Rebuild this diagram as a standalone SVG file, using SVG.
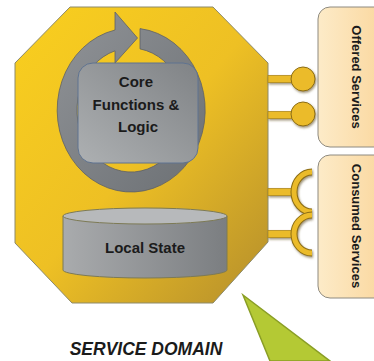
<svg xmlns="http://www.w3.org/2000/svg" width="374" height="361" viewBox="0 0 374 361">
  <defs>
    <linearGradient id="gold" x1="0" y1="0" x2="1" y2="1">
      <stop offset="0" stop-color="#F9CF1E"/>
      <stop offset="0.5" stop-color="#EEC024"/>
      <stop offset="1" stop-color="#B48E2C"/>
    </linearGradient>
    <linearGradient id="steel" x1="0" y1="1" x2="1" y2="0">
      <stop offset="0" stop-color="#ADB0B2"/>
      <stop offset="1" stop-color="#808386"/>
    </linearGradient>
    <linearGradient id="ring" x1="0" y1="0" x2="1" y2="1">
      <stop offset="0" stop-color="#909397"/>
      <stop offset="1" stop-color="#6C7074"/>
    </linearGradient>
    <linearGradient id="drum" x1="0" y1="0" x2="1" y2="0">
      <stop offset="0" stop-color="#A9ABAD"/>
      <stop offset="1" stop-color="#7B7E81"/>
    </linearGradient>
    <linearGradient id="peach" x1="0" y1="0" x2="1" y2="0">
      <stop offset="0" stop-color="#FDEBC8"/>
      <stop offset="1" stop-color="#FAD69C"/>
    </linearGradient>
    <filter id="drop" x="-30%" y="-30%" width="160%" height="160%">
      <feDropShadow dx="1" dy="1.5" stdDeviation="1" flood-color="#5a4a20" flood-opacity="0.6"/>
    </filter>
  </defs>
  <style>
    .label { font-family: "Liberation Sans", Arial, sans-serif; font-weight: bold; fill: #1b1b1b; }
    .plug { fill: #EBBB2A; stroke: #8C6D14; stroke-width: 1; }
    .bar { fill: #EBBB2A; stroke: #B08A1C; stroke-width: 0.8; }
    .socket { fill: none; stroke: #EBBB2A; stroke-width: 5; }
    .socket-edge { fill: none; stroke: #8C6D14; stroke-width: 7; }
    .panel { fill: url(#peach); stroke: #8E8A80; stroke-width: 1; }
  </style>

  <!-- service domain body -->
  <g id="service-domain">
    <polygon points="70,7 213,7 268,63 268,242 213,303 72,303 15,243 15,63" fill="url(#gold)" stroke="#8D8A6A" stroke-width="1"/>
  </g>

  <!-- circular arrow around the core -->
  <g id="cycle-arrow">
    <path d="M140,28.6 A74,82 0 1 1 115,30 L115,12 L137.5,38 L115,63 L115,50.8 A54,62 0 1 0 140,48.9 Z" fill="url(#ring)" stroke="#5E6165" stroke-width="0.8"/>
  </g>

  <g id="core">
    <rect x="78" y="63" width="120" height="100" rx="15" fill="url(#steel)" stroke="#5F7390" stroke-width="1"/>
    <text class="label" font-size="15" text-anchor="middle">
      <tspan x="138" y="87">Core</tspan>
      <tspan x="138" y="110">Functions &amp;</tspan>
      <tspan x="138" y="132">Logic</tspan>
    </text>
  </g>

  <g id="local-state">
    <path d="M63,216 L63,270 A82,8 0 0 0 227,270 L227,216 Z" fill="url(#drum)" stroke="#7D7A55" stroke-width="1"/>
    <ellipse cx="145" cy="216" rx="82" ry="8" fill="#B7B9BB" stroke="#7D7A55" stroke-width="1"/>
    <text class="label" font-size="15" x="145" y="253" text-anchor="middle">Local State</text>
  </g>

  <!-- interface panels -->
  <g id="offered-services">
    <rect class="panel" x="318" y="7" width="70" height="140" rx="12"/>
    <text class="label" font-size="13" transform="translate(352,77) rotate(90)" text-anchor="middle">Offered Services</text>
  </g>
  <g id="consumed-services">
    <rect class="panel" x="318" y="155" width="70" height="143" rx="12"/>
    <text class="label" font-size="13" transform="translate(352,226) rotate(90)" text-anchor="middle">Consumed Services</text>
  </g>

  <!-- interface connectors -->
  <g id="connectors">
    <g filter="url(#drop)">
      <rect class="bar" x="268" y="75.5" width="26" height="7"/>
      <circle class="plug" cx="303" cy="79" r="12"/>
      <rect class="bar" x="268" y="111.5" width="26" height="7"/>
      <circle class="plug" cx="303" cy="114" r="12"/>
    </g>
    <g filter="url(#drop)">
      <rect class="bar" x="268" y="188.5" width="27" height="7"/>
      <path class="socket-edge" d="M312,172 A18,20 0 0 0 312,212"/>
      <path class="socket" d="M312,172 A18,20 0 0 0 312,212"/>
      <rect class="bar" x="268" y="230.5" width="27" height="7"/>
      <path class="socket-edge" d="M312,215 A18,19 0 0 0 312,253"/>
      <path class="socket" d="M312,215 A18,19 0 0 0 312,253"/>
    </g>
  </g>

  <!-- pointer -->
  <g id="pointer">
    <polygon points="243,295 330,361 270,361" fill="#B4C934" stroke="#8A9E25" stroke-width="1.5"/>
  </g>

  <text class="label" font-size="17.5" font-style="italic" x="146" y="355" text-anchor="middle">SERVICE DOMAIN</text>
</svg>
